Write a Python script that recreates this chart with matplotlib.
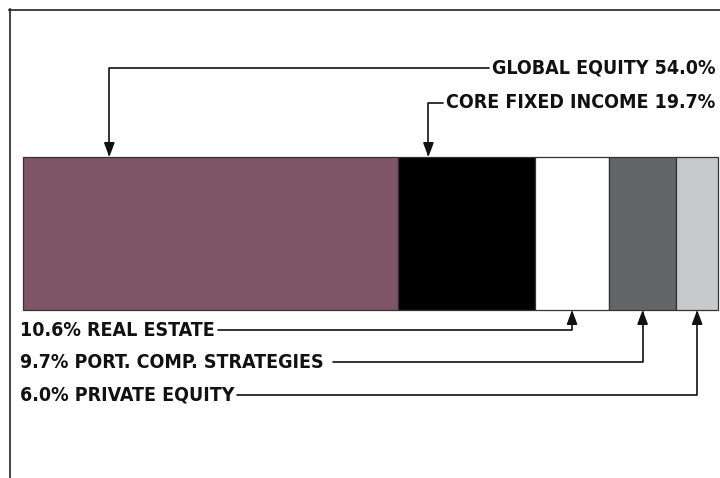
import matplotlib
matplotlib.use('Agg')
import matplotlib.pyplot as plt
from matplotlib.lines import Line2D
import numpy as np

# allocation data
categories = ['GLOBAL EQUITY', 'CORE FIXED INCOME', 'REAL ESTATE',
              'PORT. COMP. STRATEGIES', 'PRIVATE EQUITY']
values = [54.0, 19.7, 10.6, 9.7, 6.0]
colors = ['#7d5566', '#000000', '#ffffff', '#646567', '#c8c9cb']

W, H = 720, 478
fig = plt.figure(figsize=(W / 100, H / 100), dpi=100)

# bar axes, placed in pixels
bx0, bx1, by0, by1 = 23, 718, 157, 310
ax = fig.add_axes([bx0 / W, (H - by1) / H, (bx1 - bx0) / W, (by1 - by0) / H])
lefts = np.concatenate([[0], np.cumsum(values)[:-1]])
bars = ax.barh(0.5, values, left=lefts, height=1.0, color=colors,
               edgecolor='#333333', linewidth=0.9)
for b in bars:
    b.set_clip_on(False)
ax.set_xlim(0, sum(values))
ax.set_ylim(0, 1)
ax.axis('off')

# frame around the graphic (open at right and bottom)
fig.add_artist(Line2D([9.5 / W, 9.5 / W], [0, (H - 9) / H], color='#222222',
                      lw=1.2, transform=fig.transFigure))
fig.add_artist(Line2D([9 / W, 1], [(H - 9.5) / H, (H - 9.5) / H], color='#222222',
                      lw=1.2, transform=fig.transFigure))

font = dict(family=['DejaVu Sans'], stretch='condensed', weight='bold',
            size=14, color='#111111')
arrow = dict(arrowstyle='-|>,head_length=0.85,head_width=0.32', mutation_scale=10,
             color='#111111', lw=1.2, shrinkB=0,
             connectionstyle='angle,angleA=0,angleB=90,rad=0')

# top labels (arrow position as fraction within segment, text row y in px)
top = [(0, 0.23, 68), (1, 0.22, 103)]
for i, frac, ty in top:
    xv = lefts[i] + values[i] * frac
    ax.annotate(f'{categories[i]} {values[i]:.1f}%', xy=(xv, 1.0), xycoords='data',
                xytext=(715, H - ty), textcoords='figure pixels',
                ha='right', va='center',
                arrowprops=dict(arrow, relpos=(0, 0.5), shrinkA=0), **font)

# bottom labels
bottom = [(2, 330, 0), (3, 362, 5), (4, 395, 0)]
for i, ty, gap in bottom:
    xv = lefts[i] + values[i] * 0.5
    ax.annotate(f'{values[i]:.1f}% {categories[i]}', xy=(xv, 0.0), xycoords='data',
                xytext=(20, H - ty), textcoords='figure pixels',
                ha='left', va='center',
                arrowprops=dict(arrow, relpos=(1, 0.5), shrinkA=gap), **font)

fig.savefig('out.png', dpi=100)
